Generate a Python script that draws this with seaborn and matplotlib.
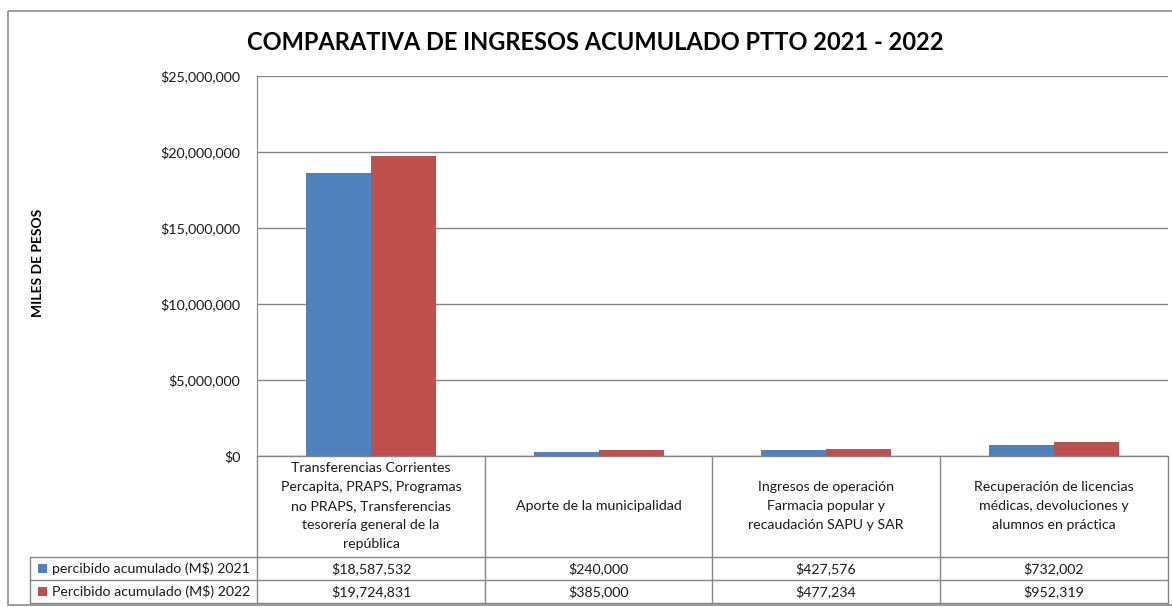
import matplotlib
matplotlib.use("Agg")
import matplotlib.pyplot as plt
import seaborn as sns
import pandas as pd
from matplotlib.ticker import FuncFormatter, MultipleLocator
from matplotlib.patches import Rectangle

# ---- data ----
categories = [
    "Transferencias Corrientes\nPercapita, PRAPS, Programas\nno PRAPS, Transferencias\ntesorería general de la\nrepública",
    "Aporte de la municipalidad",
    "Ingresos de operación\nFarmacia popular y\nrecaudación SAPU y SAR",
    "Recuperación de licencias\nmédicas, devoluciones y\nalumnos en práctica",
]
series_names = ["percibido acumulado (M$) 2021", "Percibido acumulado (M$) 2022"]
values_2021 = [18587532, 240000, 427576, 732002]
values_2022 = [19724831, 385000, 477234, 952319]
colors = ["#4F81BD", "#C0504D"]
title = "COMPARATIVA DE INGRESOS ACUMULADO PTTO 2021 - 2022"
ylabel = "MILES DE PESOS"

df = pd.DataFrame({
    "cat": list(range(len(categories))) * 2,
    "serie": [series_names[0]] * 4 + [series_names[1]] * 4,
    "valor": values_2021 + values_2022,
})

sns.set_style("white")
plt.rcParams["font.family"] = ["Lato", "DejaVu Sans"]

W, H = 1172, 607
fig = plt.figure(figsize=(W / 100, H / 100), dpi=100)

def fx(x): return x / W
def fy(y): return 1 - y / H

L, R, T, B = 257, 1168, 76, 456
ax = fig.add_axes([fx(L), fy(B), fx(R) - fx(L), fy(T) - fy(B)])
sns.barplot(data=df, x="cat", y="valor", hue="serie", palette=colors,
            width=0.57, dodge=True, ax=ax, legend=False, saturation=1,
            linewidth=0, edgecolor="none")
ax.set_ylim(0, 25000000)
ax.set_xlim(-0.5, 3.5)
ax.yaxis.set_major_locator(MultipleLocator(5000000))
ax.yaxis.set_major_formatter(FuncFormatter(lambda v, p: f"${v:,.0f}"))
ax.grid(axis="y", color="#868686", linewidth=1)
ax.set_axisbelow(True)
for s in ["top", "right", "bottom"]:
    ax.spines[s].set_visible(False)
ax.spines["left"].set_color("#868686")
ax.set_xticks([])
ax.set_xlabel("")
ax.set_ylabel("")
ax.tick_params(axis="y", length=0, pad=12, labelsize=10.3, labelcolor="#1a1a1a")

# overlays in pixel coordinates for border, title, table
ov = fig.add_axes([0, 0, 1, 1], zorder=-1)
ov.set_xlim(0, W)
ov.set_ylim(H, 0)
ov.axis("off")
ov2 = fig.add_axes([0, 0, 1, 1], zorder=5)
ov2.set_xlim(0, W)
ov2.set_ylim(H, 0)
ov2.axis("off")
ov2.patch.set_alpha(0)

ov.add_patch(Rectangle((8, 11), W + 10, 594, fill=False, edgecolor="#8c8c8c", linewidth=1.2))

ov2.text(595, 43, title, ha="center", va="center", fontsize=17, fontweight="bold", color="#000000")
ov2.text(38, 263, ylabel, ha="center", va="center", rotation=90, fontsize=10, fontweight="bold", color="#000000")

gc = "#868686"
col_edges = [257, 485, 712, 940, 1168]
row_y = [456, 557, 580, 603]
ov2.plot([257, 1168], [456, 456], color=gc, lw=1)
for y in row_y[1:]:
    ov2.plot([30, 1168], [y, y], color=gc, lw=1)
for x in col_edges:
    ov2.plot([x, x], [456, 603], color=gc, lw=1)
ov2.plot([30, 30], [557, 603], color=gc, lw=1)

tc = "#1a1a1a"
fs = 10.2
for i, c in enumerate(categories):
    cx = (col_edges[i] + col_edges[i + 1]) / 2
    ov2.text(cx, 506, c, ha="center", va="center", fontsize=fs, color=tc, linespacing=1.68)
    ov2.text(cx, 568.5, f"${values_2021[i]:,.0f}", ha="center", va="center", fontsize=fs, color=tc)
    ov2.text(cx, 591.5, f"${values_2022[i]:,.0f}", ha="center", va="center", fontsize=fs, color=tc)

for j, (name, col) in enumerate(zip(series_names, colors)):
    yc = 568.5 + 23 * j
    ov2.add_patch(Rectangle((38, yc - 4.5), 9, 9, facecolor=col, edgecolor="none"))
    ov2.text(52, yc, name, ha="left", va="center", fontsize=fs, color=tc)

fig.savefig("out.png", dpi=100)
